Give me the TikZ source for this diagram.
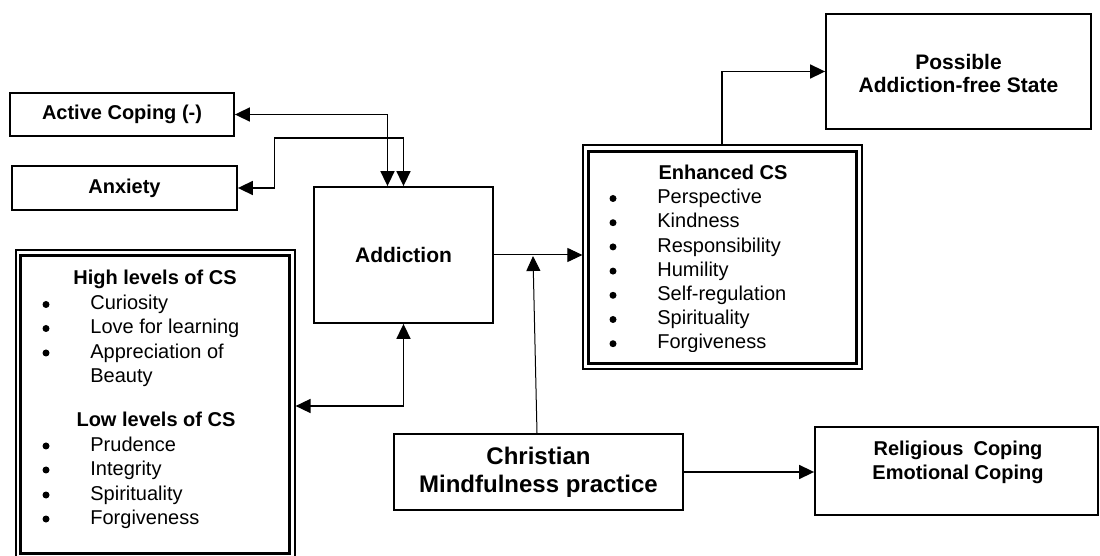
\documentclass[tikz,border=0pt]{standalone}
\usepackage{fontspec}
\setmainfont{Liberation Sans}
\usetikzlibrary{arrows.meta,calc}

\begin{document}
\begin{tikzpicture}[x=0.5pt,y=-0.5pt,
  box/.style={draw,line width=0.9pt,inner sep=0pt,align=center,
    font=\bfseries\fontsize{10}{12}\selectfont},
  outerframe/.style={draw,line width=0.6pt,inner sep=0pt},
  innerframe/.style={line width=1.3pt},
  conn/.style={line width=0.8pt},
  fine/.style={line width=0.5pt},
  tip/.style={-{Triangle[length=7.5pt,width=7pt]}},
  tips/.style={{Triangle[length=7.5pt,width=7pt]}-{Triangle[length=7.5pt,width=7pt]}},
  head/.style={font=\bfseries\fontsize{10}{12}\selectfont,anchor=mid,inner sep=0pt},
  itm/.style={font=\fontsize{10}{12}\selectfont,anchor=mid west,inner sep=0pt},
  bul/.style={circle,fill,inner sep=0pt,minimum size=3.5pt},
]
\useasboundingbox[fill=white] (0,0) rectangle (1100,556);

% plain boxes
\node[box,minimum width=112pt,minimum height=21.5pt] (act) at (122,114.5) {Active Coping (-)};
\node[box,minimum width=112.5pt,minimum height=22pt] (anx) at (124.5,188) {Anxiety};
\node[box,minimum width=89.5pt,minimum height=68pt,
  font=\bfseries\fontsize{10.5}{12}\selectfont] (add) at (403.5,255) {Addiction};
\node[box,minimum width=132.5pt,minimum height=57.5pt] (pos) at (958.5,71.5) {};
\node[head,align=center,font=\bfseries\fontsize{10.5}{11.5}\selectfont] (post) at (958.5,87)
  {Possible\\Addiction-free State};
\node[box,minimum width=144.5pt,minimum height=38pt,
  font=\bfseries\fontsize{12}{14}\selectfont] (chr) at (538.5,472)
  {Christian\\Mindfulness practice};
\node[box,minimum width=141.5pt,minimum height=44pt] (rel) at (956.5,471) {};
\node[head,align=center] (relt) at (958,474)
  {Religious\hspace{5pt}Coping\\Emotional Coping};

% framed list of character strengths (left)
\node[outerframe,minimum width=139.5pt,minimum height=154pt] (cs) at (155.5,404) {};
\draw[innerframe] ([shift={(5,6)}]cs.north west) rectangle ([shift={(-6,-5)}]cs.south east);
\node[head] (hi) at (155,279) {High levels of CS};
\foreach \t/\y [count=\i] in {Curiosity/304.5, Love for learning/328.5, Appreciation of/353}{
  \node[bul] (hb\i) at (46,\y) {};
  \node[itm] (ht\i) at (90,\y) {\t};
}
\node[itm] (ht4) at (90,377) {Beauty};
\node[head] (lo) at (156,421) {Low levels of CS};
\foreach \t/\y [count=\i] in {Prudence/446, Integrity/470, Spirituality/495, Forgiveness/519}{
  \node[bul] (lb\i) at (46,\y) {};
  \node[itm] (lt\i) at (90,\y) {\t};
}

% framed list of enhanced strengths
\node[outerframe,minimum width=139.5pt,minimum height=112pt] (enh) at (722.5,257) {};
\draw[innerframe] ([shift={(6,7)}]enh.north west) rectangle ([shift={(-6,-6)}]enh.south east);
\begin{scope}
  \clip (589,152) rectangle (856,352);
  \node[head] (eh) at (723,174) {Enhanced CS};
  \foreach \t [count=\i] in {Perspective, Kindness, Responsibility, Humility,
      Self-regulation, Spirituality, Forgiveness}{
    \node[bul] (eb\i) at (613,{198.5+24.2*(\i-1)}) {};
    \node[itm] (et\i) at (657,{198.5+24.2*(\i-1)}) {\t};
  }
\end{scope}

% connectors
\draw[conn,tips] ([xshift=-8pt]add.north) |- (act.east);
\draw[conn,tips] (add.north) -- ++(0,-48) -- ++(-129,0) |- (anx.east);
\draw[conn,tips] (add.south) |- ([yshift=-1pt]cs.east);
\coordinate (mj) at (533,256);
\draw[fine,tip] (add.east) -- (enh.west |- add.east);
\draw[fine,tip] ([xshift=-0.75pt]chr.north) -- (mj);
\draw[conn,tip] (chr.east) -- (rel.west |- chr.east);
\draw[conn,tip] ([xshift=-0.25pt]enh.north) |- (pos.west);
\end{tikzpicture}
\end{document}
